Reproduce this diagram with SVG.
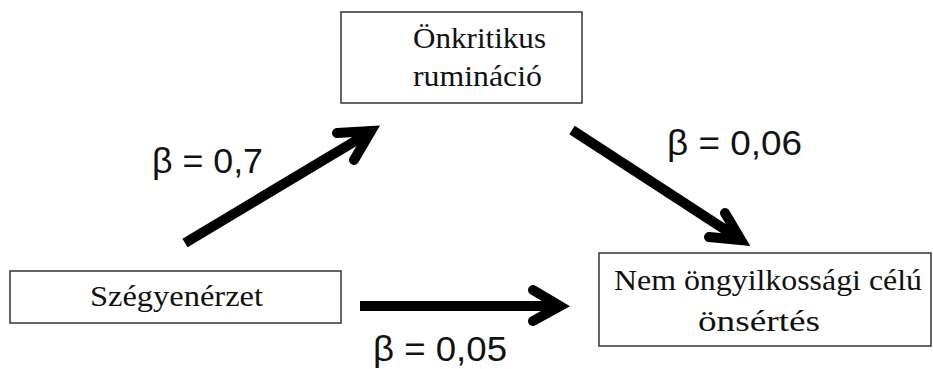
<svg xmlns="http://www.w3.org/2000/svg" width="933" height="369" viewBox="0 0 933 369">
  <style>
    .box { fill: #fff; stroke: #333; stroke-width: 1.5; }
    .lbl { font-family: "Liberation Serif", "Times New Roman", serif; font-size: 30px; fill: #111; }
    .beta { font-family: "Liberation Sans", Arial, sans-serif; font-size: 35px; fill: #111; }
    .shaft { fill: none; stroke: #000; stroke-width: 10; stroke-linecap: butt; }
    .head { fill: none; stroke: #000; stroke-width: 10; stroke-linecap: round; stroke-linejoin: miter; stroke-miterlimit: 8; }
  </style>
  <rect width="933" height="369" fill="#fff"/>

  <g id="node-onkritikus">
    <rect class="box" x="341" y="12" width="241" height="91"/>
    <text class="lbl" x="413" y="48" textLength="133" lengthAdjust="spacingAndGlyphs">Önkritikus</text>
    <text class="lbl" x="413" y="86" textLength="129" lengthAdjust="spacingAndGlyphs">rumináció</text>
  </g>

  <g id="node-szegyen">
    <rect class="box" x="10" y="271" width="331" height="52"/>
    <text class="lbl" x="90" y="306" textLength="173" lengthAdjust="spacingAndGlyphs">Szégyenérzet</text>
  </g>

  <g id="node-nssi">
    <rect class="box" x="599" y="253" width="332" height="93"/>
    <text class="lbl" x="614" y="290" textLength="308" lengthAdjust="spacingAndGlyphs">Nem öngyilkossági célú</text>
    <text class="lbl" x="698" y="331" textLength="122" lengthAdjust="spacingAndGlyphs">önsértés</text>
  </g>

  <g id="connectors">
    <!-- shame -> rumination -->
    <line class="shaft" x1="185" y1="243" x2="367" y2="134"/>
    <polyline class="head" points="337,133 371,131 354,160"/>
    <!-- rumination -> NSSI -->
    <line class="shaft" x1="572" y1="130" x2="738" y2="238"/>
    <polyline class="head" points="725,213 741,240 709,237"/>
    <!-- shame -> NSSI -->
    <line class="shaft" x1="360" y1="306" x2="558" y2="306"/>
    <polyline class="head" points="533,290 560,306 533,321"/>
  </g>

  <g id="coefficients">
    <text class="beta" x="152" y="173" textLength="111" lengthAdjust="spacingAndGlyphs">β = 0,7</text>
    <text class="beta" x="667" y="155" textLength="135" lengthAdjust="spacingAndGlyphs">β = 0,06</text>
    <text class="beta" x="373" y="361" textLength="134" lengthAdjust="spacingAndGlyphs">β = 0,05</text>
  </g>
</svg>
